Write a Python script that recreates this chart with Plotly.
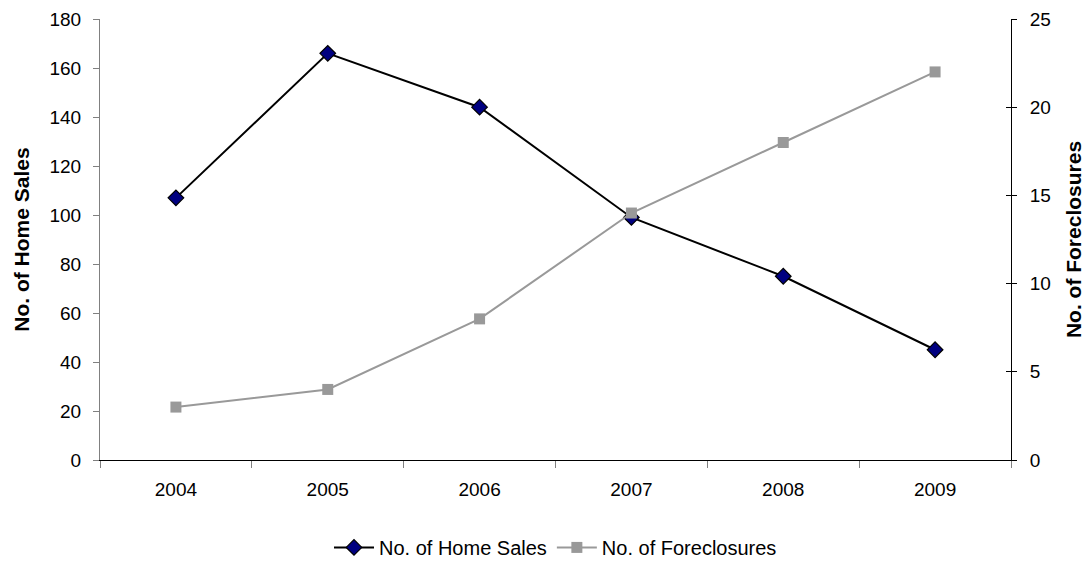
import plotly.graph_objects as go

years = ["2004", "2005", "2006", "2007", "2008", "2009"]
home_sales = [107, 166, 144, 99, 75, 45]
foreclosures = [3, 4, 8, 14, 18, 22]

font_family = "Liberation Sans, Arial, sans-serif"

fig = go.Figure()
fig.add_trace(go.Scatter(
    x=years, y=home_sales, name="No. of Home Sales", mode="lines+markers",
    line=dict(color="black", width=2),
    marker=dict(symbol="diamond", size=12, color="#000080", line=dict(color="black", width=1.2)),
    yaxis="y"))
fig.add_trace(go.Scatter(
    x=years, y=foreclosures, name="No. of Foreclosures", mode="lines+markers",
    line=dict(color="#999999", width=2),
    marker=dict(symbol="square", size=11, color="#999999"),
    yaxis="y2"))

fig.update_layout(
    width=1088, height=567,
    margin=dict(l=100, r=77, t=19, b=107, autoexpand=False),
    paper_bgcolor="white", plot_bgcolor="white",
    font=dict(family=font_family, size=19, color="black"),
    showlegend=True,
    legend=dict(orientation="h", x=0.5, xanchor="center", y=-0.154, yanchor="top",
                font=dict(size=20), itemwidth=40),
    xaxis=dict(type="category", range=[-0.5, 5.5], tickson="boundaries",
               ticks="outside", ticklen=7, tickcolor="#808080",
               showline=True, linecolor="black", linewidth=1,
               showgrid=False, zeroline=False, ticklabelstandoff=12,
               tickfont=dict(size=19), automargin=False),
    yaxis=dict(range=[0, 180], dtick=20, ticks="outside", ticklen=6,
               tickcolor="#808080", showline=True, linecolor="#808080", linewidth=1,
               showgrid=False, zeroline=False, ticklabelstandoff=8,
               tickfont=dict(size=19), automargin=False,
               title=dict(text="<b>No. of Home Sales</b>", font=dict(size=21), standoff=14)),
    yaxis2=dict(range=[0, 25], dtick=5, overlaying="y", side="right",
                ticks="outside", ticklen=5, tickcolor="black",
                showline=True, linecolor="black", linewidth=1,
                showgrid=False, zeroline=False, ticklabelstandoff=9,
                tickfont=dict(size=19), automargin=False,
                title=dict(text="<b>No. of Foreclosures</b>", font=dict(size=21), standoff=16)),
    yaxis3=dict(range=[0, 25], dtick=5, overlaying="y", side="right", anchor="x",
                ticks="inside", ticklen=5, tickcolor="black",
                showline=False, showgrid=False, zeroline=False,
                showticklabels=False, automargin=False),
)
# invisible trace to activate the inner tick axis on the right
fig.add_trace(go.Scatter(x=years, y=foreclosures, yaxis="y3", mode="lines",
                         line=dict(width=0), showlegend=False, hoverinfo="skip",
                         opacity=0))

fig.write_html("out.html")
